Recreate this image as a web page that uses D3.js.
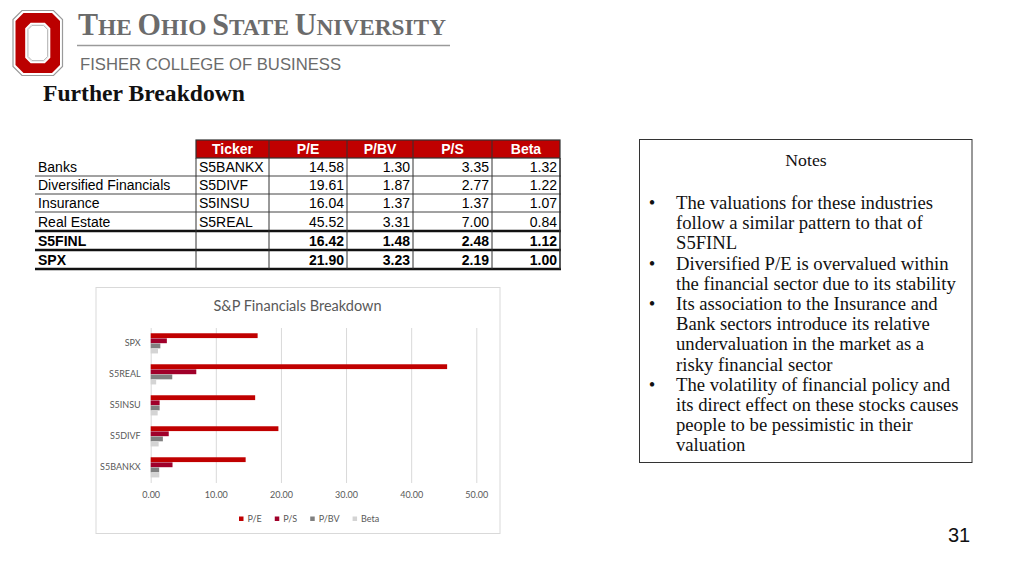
<!DOCTYPE html>
<html><head><meta charset="utf-8">
<script src="https://cdn.jsdelivr.net/npm/d3@7"></script>
<style>html,body{margin:0;padding:0;background:#fff;} svg{display:block;}</style>
</head><body>
<svg id="slide" width="1024" height="576"></svg>
<script>
// ---------- DATA ----------
const rowLabels = ["Banks","Diversified Financials","Insurance","Real Estate","S5FINL","SPX"];
const rowBold = [false,false,false,false,true,true];
const tickers = ["S5BANKX","S5DIVF","S5INSU","S5REAL","",""];
const tableCols = ["Ticker","P/E","P/BV","P/S","Beta"];
const tablePE = [14.58,19.61,16.04,45.52,16.42,21.90];
const tablePBV = [1.30,1.87,1.37,3.31,1.48,3.23];
const tablePS = [3.35,2.77,1.37,7.00,2.48,2.19];
const tableBeta = [1.32,1.22,1.07,0.84,1.12,1.00];

const chartTitle = "S&P Financials Breakdown";
const chartCategories = ["SPX","S5REAL","S5INSU","S5DIVF","S5BANKX"];
const seriesNames = ["P/E","P/S","P/BV","Beta"];
const chartPE = [16.42,45.52,16.04,19.61,14.58];
const chartPS = [2.48,7.00,1.37,2.77,3.35];
const chartPBV = [1.48,3.31,1.37,1.87,1.30];
const chartBeta = [1.12,0.84,1.07,1.22,1.32];
const xTicks = [0,10,20,30,40,50];

const notesTitle = "Notes";
const noteLines = [
  "The valuations for these industries",
  "follow a similar pattern to that of",
  "S5FINL",
  "Diversified P/E is overvalued within",
  "the financial sector due to its stability",
  "Its association to the Insurance and",
  "Bank sectors introduce its relative",
  "undervaluation in the market as a",
  "risky financial sector",
  "The volatility of financial policy and",
  "its direct effect on these stocks causes",
  "people to be pessimistic in their",
  "valuation"
];
const noteBulletStarts = [0,3,5,9];
const pageNumber = "31";

// ---------- DRAW ----------
const svg = d3.select("#slide");
const sans = "'Liberation Sans', Arial, sans-serif";
const serif = "'Liberation Serif', 'Times New Roman', serif";
const chartFont = "Lato, 'Open Sans', sans-serif";

// Logo "O"
function chamfer(x0,y0,x1,y1,c){
  return `M${x0+c},${y0}L${x1-c},${y0}L${x1},${y0+c}L${x1},${y1-c}L${x1-c},${y1}L${x0+c},${y1}L${x0},${y1-c}L${x0},${y0+c}Z`;
}
const logo = svg.append("g");
logo.append("path").attr("d", chamfer(13,10.5,62.5,75.5,9)).attr("fill","#fff").attr("stroke","#9a9a9a").attr("stroke-width",1.2);
logo.append("path").attr("d", chamfer(15.5,13,60,73,8)).attr("fill","#bb0000");
logo.append("path").attr("d", chamfer(26,23.5,49.5,62.5,5)).attr("fill","#e9e9e9").attr("stroke","#fff").attr("stroke-width",1.6);
logo.append("path").attr("d", chamfer(28,25.5,47.5,60.5,4)).attr("fill","#fff").attr("stroke","#b0b0b0").attr("stroke-width",0.8);

// University name with small caps
const uni = svg.append("text").attr("x",78).attr("y",35).attr("font-family",serif)
  .attr("font-weight","bold").attr("fill","#6b6b6b")
  .attr("textLength",368).attr("lengthAdjust","spacingAndGlyphs");
[["T","HE "],["O","HIO "],["S","TATE "],["U","NIVERSITY"]].forEach(([a,b])=>{
  uni.append("tspan").attr("font-size",31).text(a);
  uni.append("tspan").attr("font-size",24).text(b);
});
svg.append("line").attr("x1",77).attr("x2",450).attr("y1",45.5).attr("y2",45.5).attr("stroke","#9a9a9a").attr("stroke-width",1.5);
svg.append("text").attr("x",80).attr("y",69.5).attr("font-family",sans).attr("font-size",17)
  .attr("fill","#6b6b6b").attr("textLength",261).attr("lengthAdjust","spacingAndGlyphs").text("FISHER COLLEGE OF BUSINESS");

svg.append("text").attr("x",43).attr("y",100.5).attr("font-family",serif).attr("font-weight","bold")
  .attr("font-size",23).attr("fill","#111").attr("textLength",202).attr("lengthAdjust","spacingAndGlyphs").text("Further Breakdown");

// ---------- TABLE ----------
const colX = [196,269,347,413,492,560];
const labelX0 = 35;
const headY = [140,158];
const rowY = [158,176,194,212,231,250,269];
const tbl = svg.append("g").attr("font-family",sans).attr("font-size",14);
// header
tbl.append("rect").attr("x",colX[0]).attr("y",headY[0]).attr("width",colX[5]-colX[0]).attr("height",headY[1]-headY[0])
  .attr("fill","#c00000").attr("stroke","#333").attr("stroke-width",1.2);
tableCols.forEach((c,i)=>{
  tbl.append("text").attr("x",(colX[i]+colX[i+1])/2).attr("y",headY[0]+14).attr("text-anchor","middle")
    .attr("fill","#fff").attr("font-weight","bold").text(c);
  if(i>0) tbl.append("line").attr("x1",colX[i]).attr("x2",colX[i]).attr("y1",headY[0]).attr("y2",headY[1]).attr("stroke","#333").attr("stroke-width",1);
});
// row lines
const fmt = d3.format(".2f");
const cols = [tablePE,tablePBV,tablePS,tableBeta];
rowLabels.forEach((lab,r)=>{
  const y0 = rowY[r], y1 = rowY[r+1];
  const base = (y0+y1)/2 + 5;
  tbl.append("text").attr("x",38).attr("y",base).attr("fill","#000").attr("font-weight",rowBold[r]?"bold":"normal").text(lab);
  tbl.append("text").attr("x",colX[0]+3).attr("y",base).attr("fill","#000").text(tickers[r]);
  cols.forEach((arr,c)=>{
    tbl.append("text").attr("x",colX[c+2]-3).attr("y",base).attr("text-anchor","end")
      .attr("font-weight",rowBold[r]?"bold":"normal").attr("fill","#000").text(fmt(arr[r]));
  });
});
rowY.slice(1).forEach((y,i)=>{
  const thick = i>=3;
  tbl.append("line").attr("x1",labelX0).attr("x2",colX[5]+1).attr("y1",y).attr("y2",y)
    .attr("stroke",thick?"#111":"#444").attr("stroke-width",thick?2.4:1);
});
colX.forEach((x,i)=>{
  tbl.append("line").attr("x1",x).attr("x2",x).attr("y1",headY[1]).attr("y2",rowY[6])
    .attr("stroke","#333").attr("stroke-width",i===5?1.6:1);
});

// ---------- CHART ----------
const ch = svg.append("g").attr("font-family",chartFont);
ch.append("rect").attr("x",96).attr("y",287.5).attr("width",404).attr("height",246).attr("fill","#fff").attr("stroke","#d9d9d9").attr("stroke-width",1);
ch.append("text").attr("x",297.5).attr("y",311).attr("text-anchor","middle").attr("font-size",14.5).attr("fill","#595959").text(chartTitle);

const plotTop = 328, plotBottom = 483;
const x = d3.scaleLinear().domain([0,50]).range([150.7,476.3]);
const y = d3.scaleBand().domain(chartCategories).range([plotTop,plotBottom]).paddingInner(0.34).paddingOuter(0.17);
const ys = d3.scaleBand().domain(seriesNames).range([0,y.bandwidth()]);
const colors = {"P/E":"#c00000","P/S":"#a0002a","P/BV":"#808080","Beta":"#d4d4d4"};
const seriesVals = {"P/E":chartPE,"P/S":chartPS,"P/BV":chartPBV,"Beta":chartBeta};

const gx = ch.append("g").attr("transform",`translate(0,${plotBottom})`)
  .call(d3.axisBottom(x).tickValues(xTicks).tickFormat(fmt).tickSize(-(plotBottom-plotTop)).tickPadding(9));
gx.select(".domain").remove();
gx.selectAll(".tick line").attr("stroke","#d9d9d9");
gx.selectAll(".tick text").attr("fill","#595959").attr("font-size",9).attr("font-family",chartFont);

const gy = ch.append("g").attr("transform",`translate(${x(0)},0)`)
  .call(d3.axisLeft(y).tickSize(0).tickPadding(10));
gy.select(".domain").remove();
gy.selectAll(".tick text").attr("fill","#595959").attr("font-size",9).attr("font-family",chartFont);

const groups = ch.append("g").selectAll("g").data(chartCategories).join("g")
  .attr("transform",d=>`translate(0,${y(d)})`);
groups.selectAll("rect").data((d,i)=>seriesNames.map(s=>({s,v:seriesVals[s][i]}))).join("rect")
  .attr("x",x(0)).attr("y",d=>ys(d.s)).attr("height",ys.bandwidth()-0.3)
  .attr("width",d=>x(d.v)-x(0)).attr("fill",d=>colors[d.s]);

// legend
const leg = ch.append("g").attr("font-size",9).attr("fill","#595959");
let lx = 239;
seriesNames.forEach(s=>{
  leg.append("rect").attr("x",lx).attr("y",516.5).attr("width",4.5).attr("height",4.5).attr("fill",colors[s]);
  const t = leg.append("text").attr("x",lx+8.5).attr("y",521.7).text(s);
  lx += 8.5 + t.node().getComputedTextLength() + 13;
});

// ---------- NOTES ----------
svg.append("rect").attr("x",639.5).attr("y",139.5).attr("width",332.5).attr("height",323).attr("fill","#fff").attr("stroke","#333").attr("stroke-width",1);
const notes = svg.append("g").attr("font-family",serif).attr("fill","#111");
// fit font size so the longest line spans the reference width
const probe = notes.append("text").attr("font-size",16).text(noteLines[4]);
const fs = 16 * 280 / probe.node().getComputedTextLength();
probe.remove();
notes.append("text").attr("x",806).attr("y",166).attr("text-anchor","middle").attr("font-size",fs*0.95).text(notesTitle);
noteLines.forEach((ln,i)=>{
  const by = 209 + 20.2*i;
  if(noteBulletStarts.includes(i)) notes.append("text").attr("x",652).attr("y",by).attr("text-anchor","middle").attr("font-size",fs).text("•");
  notes.append("text").attr("x",676).attr("y",by).attr("font-size",fs).text(ln);
});

svg.append("text").attr("x",959).attr("y",542).attr("text-anchor","middle").attr("font-family",sans).attr("font-size",20).attr("fill","#111").text(pageNumber);
</script>
</body></html>
